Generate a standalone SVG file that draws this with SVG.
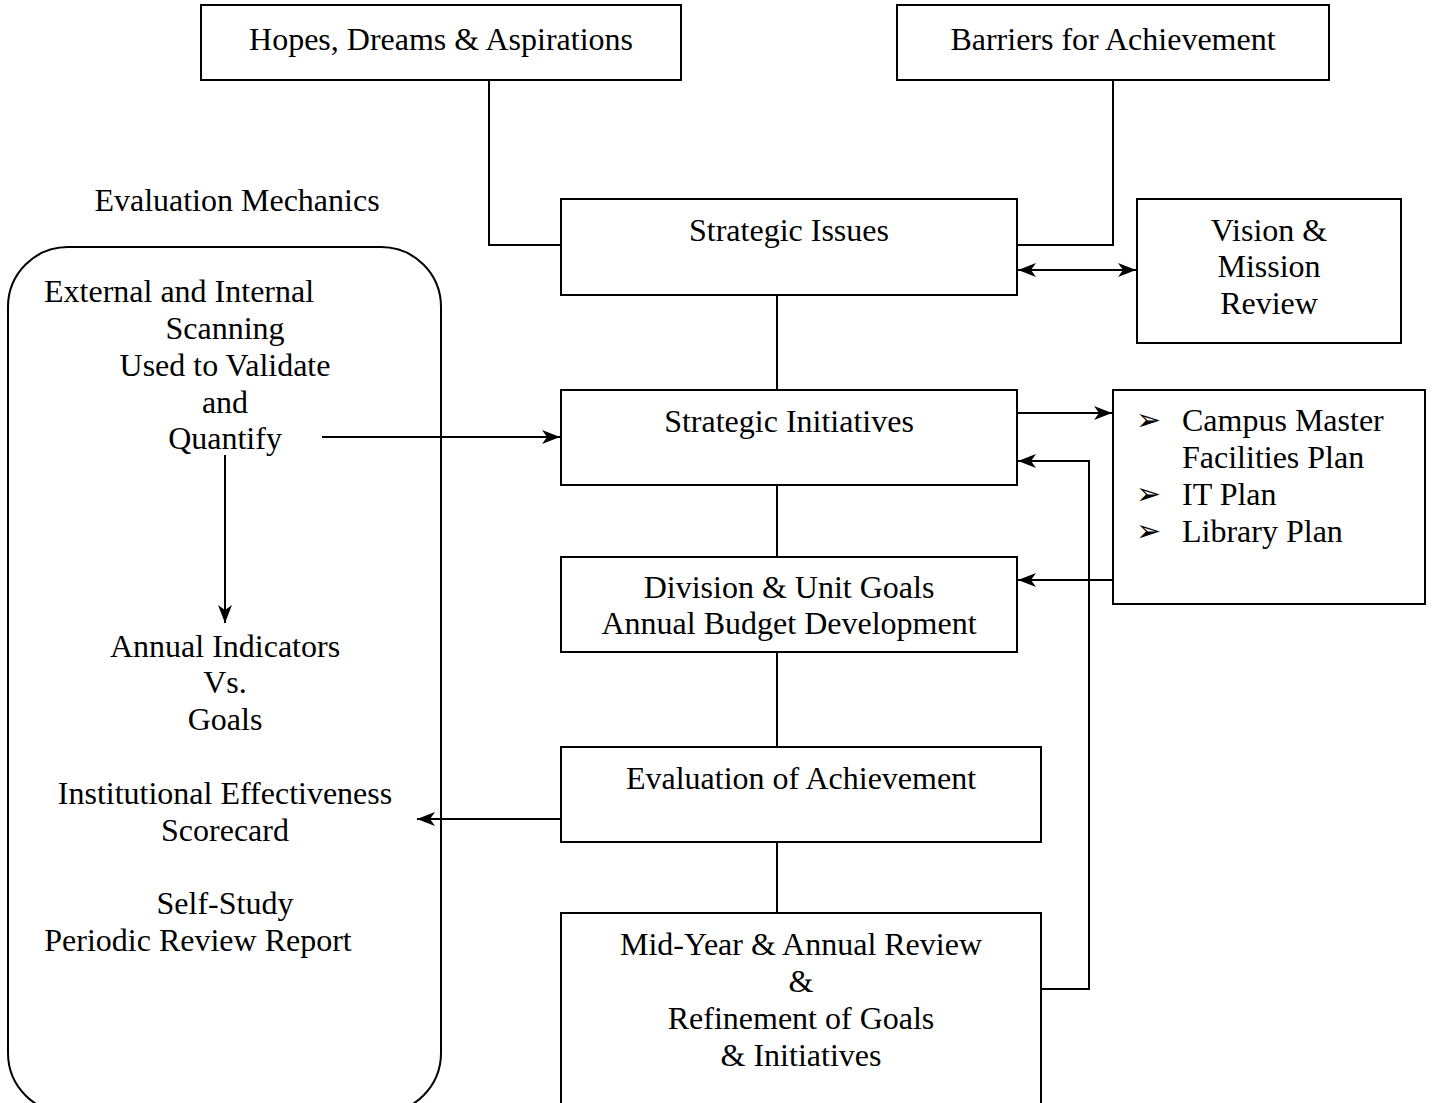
<svg xmlns="http://www.w3.org/2000/svg" width="1434" height="1103" viewBox="0 0 1434 1103">
<style>
.box{fill:#fff;stroke:#000;stroke-width:2}
.rr{fill:none;stroke:#000;stroke-width:2}
.t{font-family:"Liberation Serif","Times New Roman",serif;font-size:32px;fill:#000}
.m{text-anchor:middle}
.b{font-family:"DejaVu Sans",sans-serif;font-size:30px;fill:#000}
.c{fill:none;stroke:#000;stroke-width:2}
</style>
<defs>
<marker id="ah" viewBox="0 0 18 14" refX="18" refY="7" markerWidth="18" markerHeight="14" markerUnits="userSpaceOnUse" orient="auto-start-reverse">
<path d="M0,0 L18,7 L0,14 L5,7 z" fill="#000"/>
</marker>
</defs>
<rect width="1434" height="1103" fill="#fff"/>
<g id="mechanics">
<text class="t m" x="237" y="211">Evaluation Mechanics</text>
<rect class="rr" x="8" y="247" width="433" height="866" rx="60" ry="60"/>
<text class="t" x="44" y="302">External and Internal</text>
<text class="t m" x="225" y="339">Scanning</text>
<text class="t m" x="225" y="376">Used to Validate</text>
<text class="t m" x="225" y="413">and</text>
<text class="t m" x="225" y="449">Quantify</text>
<text class="t m" x="225" y="657">Annual Indicators</text>
<text class="t m" x="225" y="693">Vs.</text>
<text class="t m" x="225" y="730">Goals</text>
<text class="t m" x="225" y="804">Institutional Effectiveness</text>
<text class="t m" x="225" y="841">Scorecard</text>
<text class="t m" x="225" y="914">Self-Study</text>
<text class="t m" x="198" y="951">Periodic Review Report</text>
</g>
<g id="connectors">
<polyline class="c" points="489,80 489,245 561,245"/>
<polyline class="c" points="1113,80 1113,245 1017,245"/>
<line class="c" x1="1018" y1="270" x2="1136" y2="270" marker-start="url(#ah)" marker-end="url(#ah)"/>
<line class="c" x1="777" y1="295" x2="777" y2="390"/>
<line class="c" x1="777" y1="485" x2="777" y2="557"/>
<line class="c" x1="777" y1="652" x2="777" y2="747"/>
<line class="c" x1="777" y1="842" x2="777" y2="913"/>
<line class="c" x1="1017" y1="413" x2="1112" y2="413" marker-end="url(#ah)"/>
<polyline class="c" points="1041,989 1089,989 1089,461 1018,461" marker-end="url(#ah)"/>
<line class="c" x1="1113" y1="580" x2="1018" y2="580" marker-end="url(#ah)"/>
<line class="c" x1="322" y1="437" x2="560" y2="437" marker-end="url(#ah)"/>
<line class="c" x1="225" y1="455" x2="225" y2="623" marker-end="url(#ah)"/>
<line class="c" x1="561" y1="819" x2="417" y2="819" marker-end="url(#ah)"/>
</g>
<g id="hopes"><rect class="box" x="201" y="5" width="480" height="75"/><text class="t m" x="441" y="50">Hopes, Dreams &amp; Aspirations</text></g>
<g id="barriers"><rect class="box" x="897" y="5" width="432" height="75"/><text class="t m" x="1113" y="50">Barriers for Achievement</text></g>
<g id="issues"><rect class="box" x="561" y="199" width="456" height="96"/><text class="t m" x="789" y="241">Strategic Issues</text></g>
<g id="vision"><rect class="box" x="1137" y="199" width="264" height="144"/><text class="t m" x="1269" y="241">Vision &amp;</text><text class="t m" x="1269" y="277">Mission</text><text class="t m" x="1269" y="314">Review</text></g>
<g id="initiatives"><rect class="box" x="561" y="390" width="456" height="95"/><text class="t m" x="789" y="432">Strategic Initiatives</text></g>
<g id="plans"><rect class="box" x="1113" y="390" width="312" height="214"/>
<text class="b" x="1136" y="430">➢</text><text class="t" x="1182" y="431">Campus Master</text>
<text class="t" x="1182" y="468">Facilities Plan</text>
<text class="b" x="1136" y="504">➢</text><text class="t" x="1182" y="505">IT Plan</text>
<text class="b" x="1136" y="541">➢</text><text class="t" x="1182" y="542">Library Plan</text></g>
<g id="division"><rect class="box" x="561" y="557" width="456" height="95"/><text class="t m" x="789" y="598">Division &amp; Unit Goals</text><text class="t m" x="789" y="634">Annual Budget Development</text></g>
<g id="evaluation"><rect class="box" x="561" y="747" width="480" height="95"/><text class="t m" x="801" y="789">Evaluation of Achievement</text></g>
<g id="midyear"><rect class="box" x="561" y="913" width="480" height="200"/><text class="t m" x="801" y="955">Mid-Year &amp; Annual Review</text><text class="t m" x="801" y="992">&amp;</text><text class="t m" x="801" y="1029">Refinement of Goals</text><text class="t m" x="801" y="1066">&amp; Initiatives</text></g>
</svg>
